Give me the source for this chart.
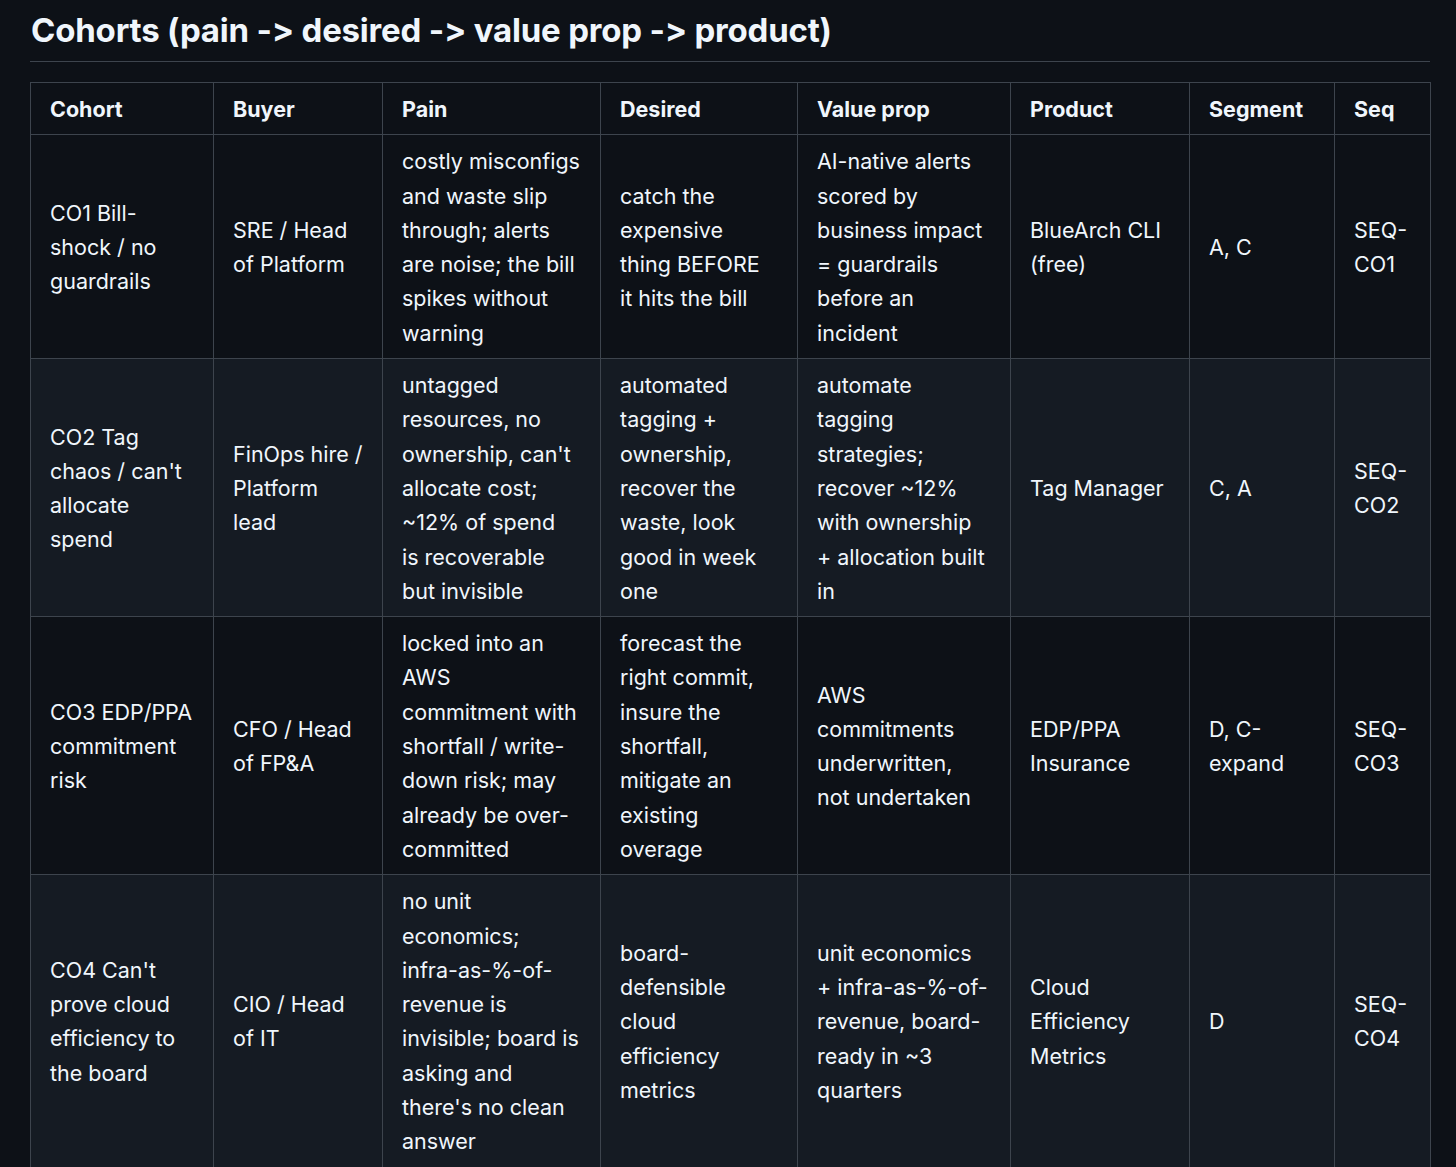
<!DOCTYPE html>
<html>
<head>
<meta charset="utf-8">
<script src="https://cdn.jsdelivr.net/npm/chart.js@4"></script>
<style>
  body { margin: 0; background: #0d1117; color: #f0f6fc; font-family: Inter, "Noto Sans", sans-serif; }
  h2 { margin: 0; position: absolute; left: 31px; top: 10px; font-size: 33px; font-weight: 700; letter-spacing: -0.2px; }
  .rule { position: absolute; left: 30px; top: 61px; width: 1400px; height: 1px; background: #3d444d; }
  table { position: absolute; left: 30px; top: 82px; border-collapse: collapse; table-layout: fixed; width: 1400px; }
  td, th { border: 1px solid #3d444d; padding: 9px 19px 8px; font-size: 21.5px; line-height: 34.3px; white-space: pre; text-align: left; vertical-align: middle; }
  th { font-weight: 700; height: 34px; }
  tr.alt td { background: #151b23; }
</style>
</head>
<body>
<h2 id="title"></h2>
<div class="rule"></div>
<table id="tbl"></table>
<script>
const title = "Cohorts (pain -> desired -> value prop -> product)";
const headers = ["Cohort", "Buyer", "Pain", "Desired", "Value prop", "Product", "Segment", "Seq"];
const colWidths = [183, 169, 218, 197, 213, 179, 145, 96];
const cohorts = ["CO1 Bill-\nshock / no\nguardrails", "CO2 Tag\nchaos / can't\nallocate\nspend", "CO3 EDP/PPA\ncommitment\nrisk", "CO4 Can't\nprove cloud\nefficiency to\nthe board"];
const buyers = ["SRE / Head\nof Platform", "FinOps hire /\nPlatform\nlead", "CFO / Head\nof FP&A", "CIO / Head\nof IT"];
const pains = [
  "costly misconfigs\nand waste slip\nthrough; alerts\nare noise; the bill\nspikes without\nwarning",
  "untagged\nresources, no\nownership, can't\nallocate cost;\n~12% of spend\nis recoverable\nbut invisible",
  "locked into an\nAWS\ncommitment with\nshortfall / write-\ndown risk; may\nalready be over-\ncommitted",
  "no unit\neconomics;\ninfra-as-%-of-\nrevenue is\ninvisible; board is\nasking and\nthere's no clean\nanswer"
];
const desired = [
  "catch the\nexpensive\nthing BEFORE\nit hits the bill",
  "automated\ntagging +\nownership,\nrecover the\nwaste, look\ngood in week\none",
  "forecast the\nright commit,\ninsure the\nshortfall,\nmitigate an\nexisting\noverage",
  "board-\ndefensible\ncloud\nefficiency\nmetrics"
];
const valueProps = [
  "AI-native alerts\nscored by\nbusiness impact\n= guardrails\nbefore an\nincident",
  "automate\ntagging\nstrategies;\nrecover ~12%\nwith ownership\n+ allocation built\nin",
  "AWS\ncommitments\nunderwritten,\nnot undertaken",
  "unit economics\n+ infra-as-%-of-\nrevenue, board-\nready in ~3\nquarters"
];
const products = ["BlueArch CLI\n(free)", "Tag Manager", "EDP/PPA\nInsurance", "Cloud\nEfficiency\nMetrics"];
const segments = ["A, C", "C, A", "D, C-\nexpand", "D"];
const seqs = ["SEQ-\nCO1", "SEQ-\nCO2", "SEQ-\nCO3", "SEQ-\nCO4"];

document.getElementById("title").textContent = title;
const tbl = document.getElementById("tbl");
const cg = document.createElement("colgroup");
colWidths.forEach(w => { const c = document.createElement("col"); c.style.width = w + "px"; cg.appendChild(c); });
tbl.appendChild(cg);
const hr = document.createElement("tr");
headers.forEach(h => { const th = document.createElement("th"); th.textContent = h; hr.appendChild(th); });
tbl.appendChild(hr);
const cols = [cohorts, buyers, pains, desired, valueProps, products, segments, seqs];
cohorts.forEach((_, i) => {
  const tr = document.createElement("tr");
  if (i % 2 === 1) tr.className = "alt";
  cols.forEach(col => { const td = document.createElement("td"); td.textContent = col[i]; tr.appendChild(td); });
  tbl.appendChild(tr);
});
</script>
</body>
</html>
